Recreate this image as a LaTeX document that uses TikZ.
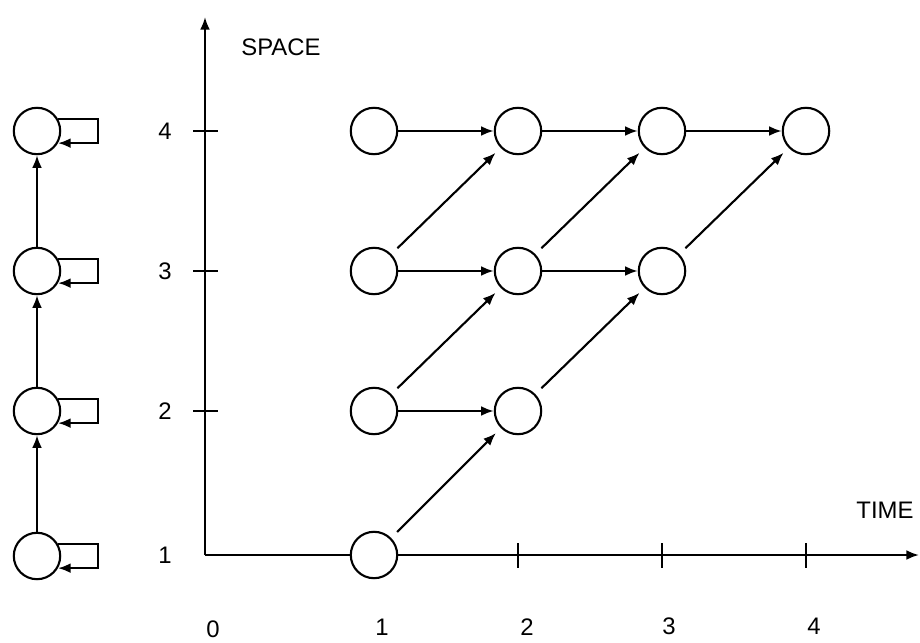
\documentclass[tikz,border=0pt]{standalone}
\usepackage{fontspec}
\setmainfont{Liberation Sans}
\usetikzlibrary{arrows.meta}
\begin{document}
\begin{tikzpicture}[x=0.025cm,y=-0.025cm,>={Latex[length=9pt,width=7pt]},line width=1.5pt,
    state/.style={circle,draw,inner sep=0pt,minimum size=1.16cm},
    lbl/.style={inner sep=0pt,font=\fontsize{17}{20}\selectfont},
    diag/.style={->,shorten <=6pt,shorten >=5pt}]
  \useasboundingbox (0,0) rectangle (920,643);
  % axes
  \coordinate (o) at (205,555);
  \coordinate (ytop) at (205,17);
  \coordinate (xend) at (919,555);
  \draw[->] (o) -- (ytop);
  \draw[->] (o) -- (xend);
  \foreach \y in {131,271,411}
    \draw (193,\y) -- (218,\y);
  \foreach \x in {518,662,806}
    \draw (\x,543) -- (\x,568);
  \node[lbl] (space) at (281,47) {SPACE};
  \node[lbl] (time) at (885,510) {TIME};
  \node[lbl] (s4) at (165,131) {4};
  \node[lbl] (s3) at (165,271) {3};
  \node[lbl] (s2) at (165,411) {2};
  \node[lbl] (s1) at (165,555) {1};
  \node[lbl] (t0) at (213,629) {0};
  \node[lbl] (t1) at (382,627) {1};
  \node[lbl] (t2) at (527,627) {2};
  \node[lbl] (t3) at (669,626) {3};
  \node[lbl] (t4) at (814,626) {4};
  % left column
  \node[state] (l1) at (37,556) {};
  \node[state] (l2) at (37,411) {};
  \node[state] (l3) at (37,271) {};
  \node[state] (l4) at (37,131) {};
  \draw[->] (l1) -- (l2);
  \draw[->] (l2) -- (l3);
  \draw[->] (l3) -- (l4);
  \foreach \n in {l1,l2,l3,l4}
    \draw[->] (\n.30) -- ++(40,0) |- (\n.-30);
  % time/space grid
  \node[state,fill=white] (a11) at (374,555) {};
  \node[state] (a12) at (374,411) {};
  \node[state] (a13) at (374,271) {};
  \node[state] (a14) at (374,131) {};
  \node[state] (a22) at (518,411) {};
  \node[state] (a23) at (518,271) {};
  \node[state] (a24) at (518,131) {};
  \node[state] (a33) at (662,271) {};
  \node[state] (a34) at (662,131) {};
  \node[state] (a44) at (806,131) {};
  \draw[->] (a12) -- (a22);
  \draw[->] (a13) -- (a23);
  \draw[->] (a23) -- (a33);
  \draw[->] (a14) -- (a24);
  \draw[->] (a24) -- (a34);
  \draw[->] (a34) -- (a44);
  \draw[diag] (a11) -- (a22);
  \draw[diag] (a12) -- (a23);
  \draw[diag] (a22) -- (a33);
  \draw[diag] (a13) -- (a24);
  \draw[diag] (a23) -- (a34);
  \draw[diag] (a33) -- (a44);
\end{tikzpicture}
\end{document}
